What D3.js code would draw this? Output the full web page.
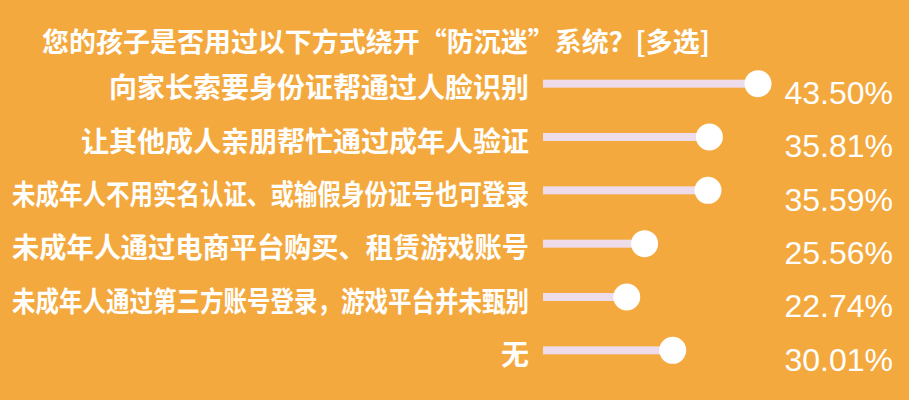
<!DOCTYPE html>
<html>
<head>
<meta charset="utf-8">
<script src="https://cdn.jsdelivr.net/npm/d3@7"></script>
<style>
  html, body { margin: 0; padding: 0; background: #f4a93e; }
  svg { display: block; }
</style>
</head>
<body>
<script>
const title = "您的孩子是否用过以下方式绕开“防沉迷”系统？[多选]";
const categories = [
  "向家长索要身份证帮通过人脸识别",
  "让其他成人亲朋帮忙通过成年人验证",
  "未成年人不用实名认证、或输假身份证号也可登录",
  "未成年人通过电商平台购买、租赁游戏账号",
  "未成年人通过第三方账号登录，游戏平台并未甄别",
  "无"
];
const values = [43.50, 35.81, 35.59, 25.56, 22.74, 30.01];

const width = 909, height = 400;
const barStart = 543;
const labelRight = 529, labelMax = 517;

const svg = d3.select("body").append("svg")
    .attr("width", width)
    .attr("height", height);

svg.append("rect")
    .attr("width", width)
    .attr("height", height)
    .attr("fill", "#f4a93e");

// value scale: zero sits left of where the bars begin
const x = d3.scaleLinear().domain([0, 43.5]).range([483, 758]);
const y = d3.scaleBand().domain(categories).range([57, 377]).paddingInner(0);

const t = svg.append("text")
    .attr("x", 42)
    .attr("y", 52)
    .attr("fill", "#fff")
    .attr("font-family", "Noto Sans CJK SC")
    .attr("font-weight", "bold")
    .attr("font-size", 27)
    .text(title);
if (t.node().getComputedTextLength() > 668) {
  t.attr("textLength", 668).attr("lengthAdjust", "spacingAndGlyphs");
}

const row = svg.append("g")
  .selectAll("g")
  .data(categories)
  .join("g")
    .attr("transform", d => `translate(0,${y(d) + y.bandwidth() / 2})`);

row.append("text")
    .attr("x", labelRight)
    .attr("y", 5)
    .attr("dy", "0.35em")
    .attr("text-anchor", "end")
    .attr("fill", "#fff")
    .attr("font-family", "Noto Sans CJK SC")
    .attr("font-weight", "bold")
    .attr("font-size", 28)
    .text(d => d)
    .each(function() {
      // long labels are squeezed to fit, as in the original layout
      if (this.getComputedTextLength() > labelMax) {
        d3.select(this).attr("textLength", labelMax).attr("lengthAdjust", "spacingAndGlyphs");
      }
    });

row.append("rect")
    .attr("x", barStart)
    .attr("y", -4)
    .attr("height", 8)
    .attr("width", (d, i) => x(values[i]) - barStart)
    .attr("fill", "#eedcea");

row.append("circle")
    .attr("cx", (d, i) => x(values[i]))
    .attr("cy", 0)
    .attr("r", 13.5)
    .attr("fill", "#fff");

row.append("text")
    .attr("x", 893)
    .attr("y", 9)
    .attr("dy", "0.35em")
    .attr("text-anchor", "end")
    .attr("fill", "#fff")
    .attr("font-family", "Liberation Sans, Arial, sans-serif")
    .attr("font-size", 32)
    .text((d, i) => values[i].toFixed(2) + "%");
</script>
</body>
</html>
